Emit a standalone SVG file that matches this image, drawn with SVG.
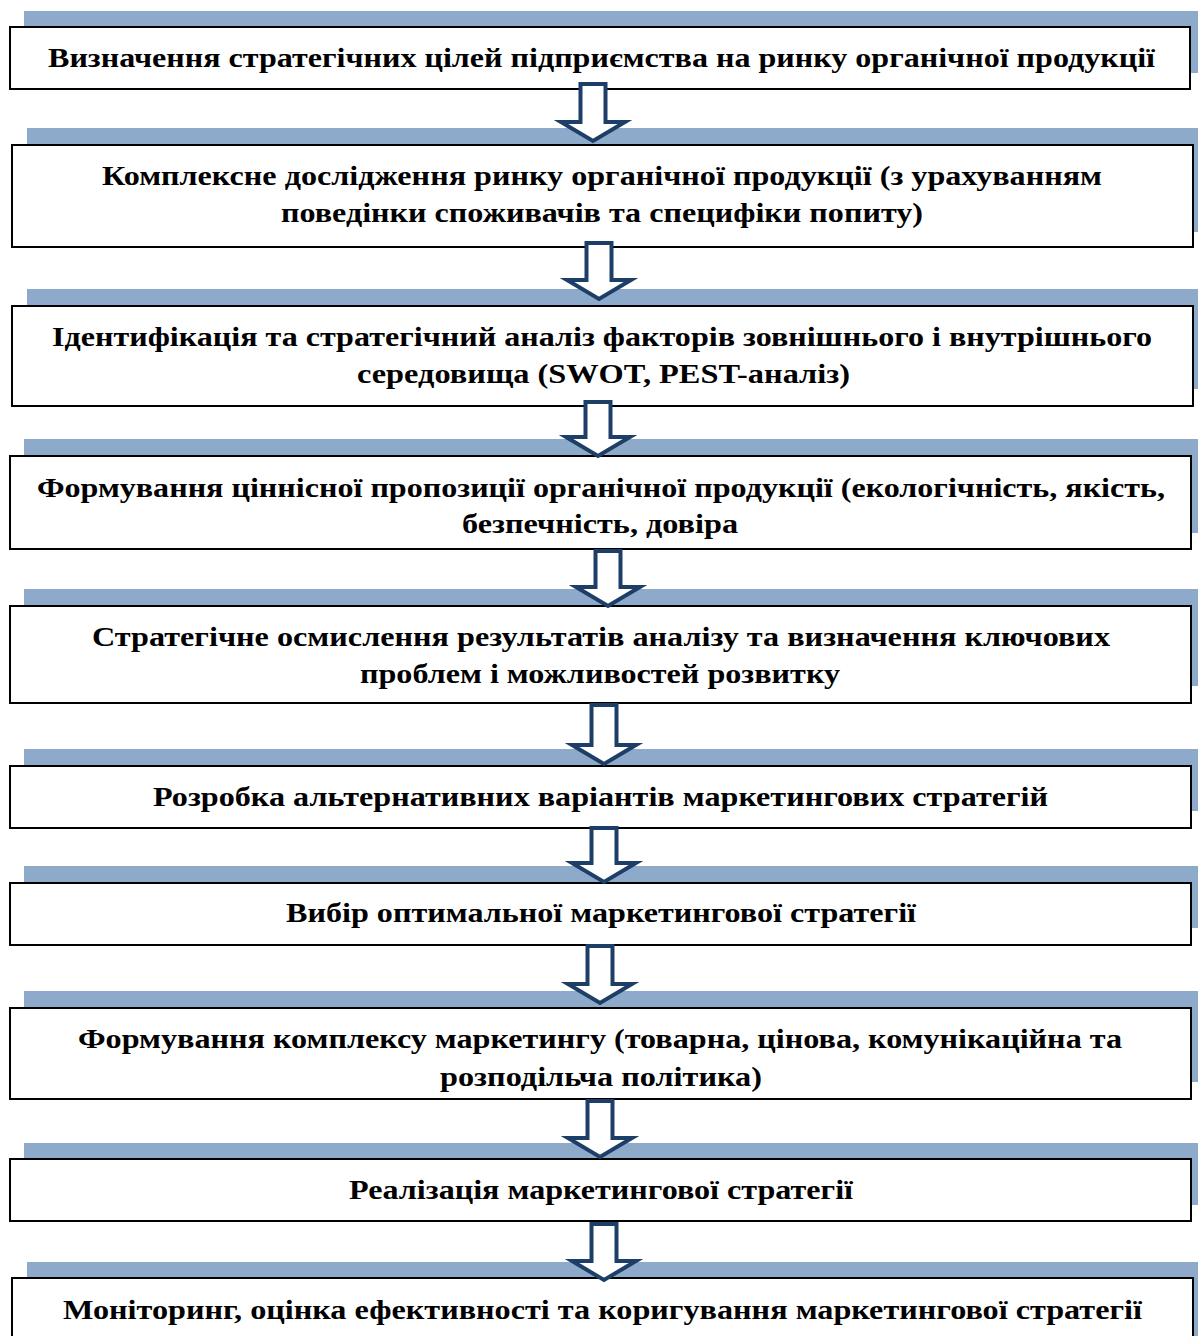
<svg xmlns="http://www.w3.org/2000/svg" width="1198" height="1336" viewBox="0 0 1198 1336">
<style>
.sh{fill:#8eaacb;}
.bx{fill:#ffffff;stroke:#000000;stroke-width:2;}
.t{font-family:"Liberation Serif","Times New Roman",serif;font-weight:bold;font-size:28px;fill:#000000;text-anchor:middle;}
.ar{fill:#ffffff;stroke:#1d3e66;stroke-width:4;stroke-linejoin:miter;}
</style>
<defs>
<clipPath id="c8"><rect x="10" y="1008" width="1181" height="91"/></clipPath>
</defs>
<rect width="1198" height="1336" fill="#ffffff"/>
<g id="shadows">
<rect class="sh" x="24" y="11" width="1180" height="62"/>
<rect class="sh" x="27" y="128" width="1181" height="104"/>
<rect class="sh" x="27" y="289" width="1181" height="100"/>
<rect class="sh" x="24" y="439" width="1181" height="94"/>
<rect class="sh" x="24" y="589" width="1181" height="97"/>
<rect class="sh" x="24" y="749" width="1181" height="62"/>
<rect class="sh" x="24" y="866" width="1181" height="62"/>
<rect class="sh" x="24" y="991" width="1181" height="91"/>
<rect class="sh" x="24" y="1143" width="1181" height="62"/>
<rect class="sh" x="27" y="1262" width="1181" height="90"/>
</g>
<g id="n1">
<rect class="bx" x="10" y="27" width="1180" height="62"/>
<text class="t" x="601.5" y="67" textLength="1107" lengthAdjust="spacingAndGlyphs">Визначення стратегічних цілей підприємства на ринку органічної продукції</text>
</g>
<g id="n2">
<rect class="bx" x="12" y="145" width="1181" height="102"/>
<text class="t" x="602" y="185" textLength="1000" lengthAdjust="spacingAndGlyphs">Комплексне дослідження ринку органічної продукції (з урахуванням</text>
<text class="t" x="602" y="222" textLength="642" lengthAdjust="spacingAndGlyphs">поведінки споживачів та специфіки попиту)</text>
</g>
<g id="n3">
<rect class="bx" x="12" y="306" width="1181" height="100"/>
<text class="t" x="602" y="346" textLength="1100" lengthAdjust="spacingAndGlyphs">Ідентифікація та стратегічний аналіз факторів зовнішнього і внутрішнього</text>
<text class="t" x="603.5" y="383" textLength="493" lengthAdjust="spacingAndGlyphs">середовища (SWOT, PEST-аналіз)</text>
</g>
<g id="n4">
<rect class="bx" x="10" y="456" width="1181" height="93"/>
<text class="t" x="601" y="497" textLength="1128" lengthAdjust="spacingAndGlyphs">Формування ціннісної пропозиції органічної продукції (екологічність, якість,</text>
<text class="t" x="600" y="533" textLength="276" lengthAdjust="spacingAndGlyphs">безпечність, довіра</text>
</g>
<g id="n5">
<rect class="bx" x="10" y="606" width="1181" height="97"/>
<text class="t" x="601" y="646" textLength="1018" lengthAdjust="spacingAndGlyphs">Стратегічне осмислення результатів аналізу та визначення ключових</text>
<text class="t" x="600" y="683" textLength="480" lengthAdjust="spacingAndGlyphs">проблем і можливостей розвитку</text>
</g>
<g id="n6">
<rect class="bx" x="10" y="766" width="1181" height="62"/>
<text class="t" x="600.5" y="806" textLength="895" lengthAdjust="spacingAndGlyphs">Розробка альтернативних варіантів маркетингових стратегій</text>
</g>
<g id="n7">
<rect class="bx" x="10" y="883" width="1181" height="62"/>
<text class="t" x="601" y="922" textLength="630" lengthAdjust="spacingAndGlyphs">Вибір оптимальної маркетингової стратегії</text>
</g>
<g id="n8">
<rect class="bx" x="10" y="1008" width="1181" height="91"/>
<g clip-path="url(#c8)">
<text class="t" x="600" y="1048" textLength="1044" lengthAdjust="spacingAndGlyphs">Формування комплексу маркетингу (товарна, цінова, комунікаційна та</text>
<text class="t" x="601" y="1086" textLength="322" lengthAdjust="spacingAndGlyphs">розподільча політика)</text>
</g>
<rect x="10" y="1008" width="1181" height="91" fill="none" stroke="#000" stroke-width="2"/>
</g>
<g id="n9">
<rect class="bx" x="10" y="1159" width="1181" height="62"/>
<text class="t" x="601" y="1199" textLength="504" lengthAdjust="spacingAndGlyphs">Реалізація маркетингової стратегії</text>
</g>
<g id="n10">
<rect class="bx" x="12" y="1278" width="1181" height="80"/>
<text class="t" x="602.5" y="1319" textLength="1079" lengthAdjust="spacingAndGlyphs">Моніторинг, оцінка ефективності та коригування маркетингової стратегії</text>
</g>
<g id="connectors">
<path class="ar" d="M580.5,84 L605.5,84 L605.5,122 L625,122 L593,141 L561,122 L580.5,122 Z"/>
<path class="ar" d="M586.5,243 L611.5,243 L611.5,280 L631,280 L599,299 L567,280 L586.5,280 Z"/>
<path class="ar" d="M585.5,402 L610.5,402 L610.5,437 L630,437 L598,456 L566,437 L585.5,437 Z"/>
<path class="ar" d="M595.5,551 L620.5,551 L620.5,587 L640,587 L608,606 L576,587 L595.5,587 Z"/>
<path class="ar" d="M591.5,705 L616.5,705 L616.5,745 L636,745 L604,764 L572,745 L591.5,745 Z"/>
<path class="ar" d="M591.5,828 L616.5,828 L616.5,863 L636,863 L604,882 L572,863 L591.5,863 Z"/>
<path class="ar" d="M587.5,946 L612.5,946 L612.5,984 L632,984 L600,1003 L568,984 L587.5,984 Z"/>
<path class="ar" d="M587.5,1101 L612.5,1101 L612.5,1138 L632,1138 L600,1157 L568,1138 L587.5,1138 Z"/>
<path class="ar" d="M591.5,1224 L616.5,1224 L616.5,1261 L636,1261 L604,1280 L572,1261 L591.5,1261 Z"/>
</g>
</svg>
